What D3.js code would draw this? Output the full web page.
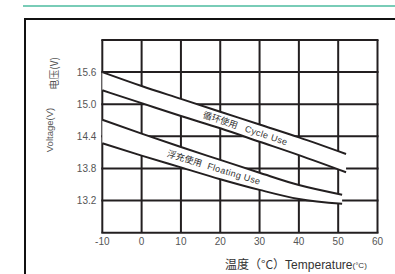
<!DOCTYPE html>
<meta charset="utf-8">
<style>
body { margin: 0; background: #fff; }
svg { display: block; font-family: "Liberation Sans", Arial, sans-serif; }
.grid line { stroke: #231f20; stroke-width: 2; }
.tick-label { font-size: 10px; fill: #555; }
.curve { fill: none; stroke: #231f20; stroke-width: 2; }
.band { fill: #fff; stroke: none; }
.band-label { font-size: 9px; fill: #333; }
</style>
<body>
<script src="https://d3js.org/d3.v7.min.js"></script>
<script>

// temperatures (°C) and voltages (V)
const cycleTemps = [-10, 0, 10, 20, 30, 40, 52];
const cycleUpper = [15.60, 15.34, 15.10, 14.86, 14.62, 14.38, 14.07];
const cycleLower = [15.26, 15.02, 14.78, 14.55, 14.30, 14.05, 13.73];

const floatTemps = [-10, 0, 10, 20, 30, 40, 51];
const floatUpper = [14.71, 14.45, 14.20, 13.96, 13.72, 13.49, 13.31];
const floatLower = [14.27, 14.04, 13.82, 13.60, 13.40, 13.23, 13.14];

const xTicks = [-10, 0, 10, 20, 30, 40, 50, 60];
const yTicks = [15.6, 15.0, 14.4, 13.8, 13.2];

const W = 395, H = 274;

var svg = d3.select("body").append("svg")
    .attr("width", W)
    .attr("height", H);

// teal rule at the top and the black frame
svg.append("line")
    .attr("x1", 23).attr("x2", W).attr("y1", 6).attr("y2", 6)
    .attr("stroke", "#4dbb9f").attr("stroke-width", 1.5);

svg.append("rect")
    .attr("x", 25).attr("y", 19).attr("width", 400).attr("height", 300)
    .attr("fill", "none").attr("stroke", "#111").attr("stroke-width", 2);

var x = d3.scaleLinear().domain([-10, 60]).range([102.3, 377.5]);
var y = d3.scaleLinear().domain([12.6, 16.2]).range([232.7, 40]);

// grid
var grid = svg.append("g").attr("class", "grid");
grid.selectAll(".v")
    .data(xTicks)
  .enter().append("line")
    .attr("x1", d => x(d)).attr("x2", d => x(d))
    .attr("y1", y(16.2)).attr("y2", y(12.6));

grid.selectAll(".h")
    .data(d3.range(12.6, 16.21, 0.6))
  .enter().append("line")
    .attr("x1", x(-10) - 1).attr("x2", x(60) + 1)
    .attr("y1", d => y(d)).attr("y2", d => y(d));

// tick labels
svg.selectAll(".ylab")
    .data(yTicks)
  .enter().append("text")
    .attr("class", "tick-label")
    .attr("x", x(-10) - 6)
    .attr("y", d => y(d) + 3.5)
    .attr("text-anchor", "end")
    .text(d => d.toFixed(1));

svg.selectAll(".xlab")
    .data(xTicks)
  .enter().append("text")
    .attr("class", "tick-label")
    .attr("x", d => x(d))
    .attr("y", 245)
    .attr("text-anchor", "middle")
    .text(d => d < 0 ? "-" + Math.abs(d) : d);

// axis titles
svg.append("text")
    .attr("transform", "translate(53,130) rotate(-90)")
    .attr("text-anchor", "middle")
    .style("font-size", "9.5px").style("fill", "#555")
    .text("Voltage(V)");

svg.append("text")
    .attr("transform", "translate(58,73.5) rotate(-90)")
    .attr("text-anchor", "middle")
    .style("font-size", "10px").style("fill", "#555")
    .style("font-family", "'Noto Sans CJK SC', sans-serif")
    .text("电压(V)");

var xt = svg.append("text")
    .attr("x", 225).attr("y", 269)
    .style("fill", "#333");
xt.append("tspan")
    .style("font-family", "'Noto Sans CJK SC', sans-serif")
    .style("font-size", "12px")
    .text("温度（°C）");
xt.append("tspan")
    .style("font-size", "12px")
    .text("Temperature");
xt.append("tspan")
    .style("font-size", "8px")
    .attr("dy", -1)
    .text("(°C)");

// curves, with the band between each pair blanked out
var line = d3.line()
    .x(d => x(d[0]))
    .y(d => y(d[1]))
    .curve(d3.curveMonotoneX);

var area = d3.area()
    .x(d => x(d[0]))
    .y0(d => y(d[2]))
    .y1(d => y(d[1]))
    .curve(d3.curveMonotoneX);

[[cycleTemps, cycleUpper, cycleLower], [floatTemps, floatUpper, floatLower]].forEach(function(s) {
  var pts = s[0].map((t, i) => [t, s[1][i], s[2][i]]);
  svg.append("path").attr("class", "band").attr("d", area(pts));
  svg.append("path").attr("class", "curve").attr("d", line(pts.map(p => [p[0], p[1]])));
  svg.append("path").attr("class", "curve").attr("d", line(pts.map(p => [p[0], p[2]])));
});

// band labels, placed between the two curves and turned along them
function bandLabel(temps, up, lo, t, dt, zh, en, gap) {
  var mid = temps.map((d, i) => (up[i] + lo[i]) / 2);
  var f = d3.scaleLinear().domain(temps).range(mid);
  var px = x(t), py = y(f(t));
  var ang = Math.atan2(y(f(t + dt)) - y(f(t - dt)), x(t + dt) - x(t - dt)) * 180 / Math.PI;
  var g = svg.append("text")
      .attr("class", "band-label")
      .attr("transform", "translate(" + px + "," + py + ") rotate(" + ang + ")")
      .attr("text-anchor", "middle")
      .attr("dy", "0.35em");
  g.append("tspan").style("font-family", "'Noto Sans CJK SC', sans-serif").text(zh);
  g.append("tspan").attr("dx", gap).style("letter-spacing", "0.4px").text(en);
}

bandLabel(cycleTemps, cycleUpper, cycleLower, 26.4, 8, "循环使用", "Cycle Use", 8);
bandLabel(floatTemps, floatUpper, floatLower, 18.4, 8, "浮充使用", "Floating Use", 6);

</script>
</body>
